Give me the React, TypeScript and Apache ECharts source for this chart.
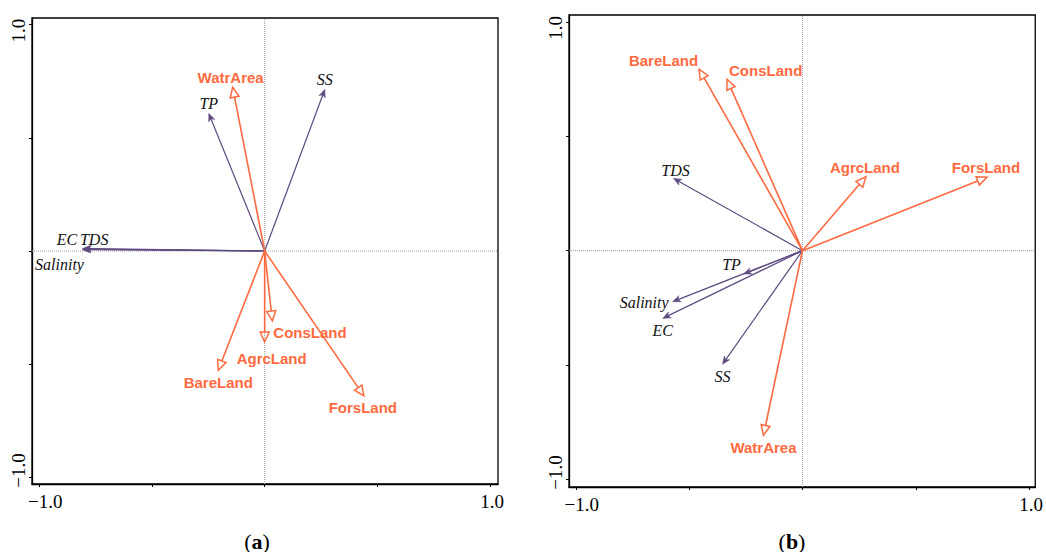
import React, { useEffect, useRef } from "react";
import * as echarts from "echarts";

// ---------- data ----------
const tickValues = [-1, -0.5, 0, 0.5, 1];
const labelValues = [-1, 1];

// panel (a)
const envNamesA = ["TP", "SS", "EC", "TDS", "Salinity"];
const envXA = [-0.248, 0.267, -0.81, -0.805, -0.808];
const envYA = [0.608, 0.714, 0.009, 0.011, 0.006];
const landNamesA = ["WatrArea", "ConsLand", "AgrcLand", "BareLand", "ForsLand"];
const landXA = [-0.142, 0.034, 0.0, -0.206, 0.44];
const landYA = [0.723, -0.309, -0.402, -0.527, -0.64];

// panel (b)
const envNamesB = ["TDS", "TP", "Salinity", "EC", "SS"];
const envXB = [-0.569, -0.26, -0.573, -0.617, -0.353];
const envYB = [0.316, -0.102, -0.223, -0.296, -0.497];
const landNamesB = ["BareLand", "ConsLand", "AgrcLand", "ForsLand", "WatrArea"];
const landXB = [-0.456, -0.333, 0.28, 0.814, -0.172];
const landYB = [0.793, 0.749, 0.323, 0.321, -0.807];

// axis extents
const rangeA = { xmin: -1.032, xmax: 1.035, ymin: -1.029, ymax: 1.029 };
const rangeB = { xmin: -1.03, xmax: 1.027, ymin: -1.033, ymax: 1.03 };

// ---------- styles ----------
const ORANGE = "#ff6a40";
const PURPLE = "#5e4b80";
const SERIF = "'Liberation Serif', 'Times New Roman', serif";
const SANS = "'Liberation Sans', Arial, sans-serif";

// label placement (pixel offsets from arrow tip)
const labelPosA: Record<string, [number, number, string]> = {
  TP: [0, -10, "center"],
  SS: [0, -10, "center"],
  EC: [-15, -9, "center"],
  TDS: [11, -9, "center"],
  Salinity: [-23, 15, "center"],
  WatrArea: [-2, -10, "center"],
  ConsLand: [1, 12, "left"],
  AgrcLand: [7, 16, "center"],
  BareLand: [0, 12, "center"],
  ForsLand: [-1, 12, "center"],
};
const labelPosB: Record<string, [number, number, string]> = {
  BareLand: [-1, -9, "right"],
  ConsLand: [2, -9, "left"],
  AgrcLand: [-1, -9, "center"],
  ForsLand: [-1, -10, "center"],
  TDS: [2, -8, "center"],
  TP: [-12, -9, "center"],
  Salinity: [-4, 1, "right"],
  EC: [0, 12, "center"],
  SS: [0, 12, "center"],
  WatrArea: [0, 12, "center"],
};

function arrowSeries(
  names: string[],
  xs: number[],
  ys: number[],
  idx: number,
  kind: "env" | "land",
  pos: Record<string, [number, number, string]>
) {
  return {
    type: "custom",
    coordinateSystem: "cartesian2d",
    xAxisIndex: idx,
    yAxisIndex: idx,
    clip: false,
    z: kind === "land" ? 4 : 3,
    data: xs.map((x, i) => [x, ys[i]]),
    renderItem: (params: any, api: any) => {
      const i = params.dataIndex;
      const name = names[i];
      const o = api.coord([0, 0]);
      const t = api.coord([api.value(0), api.value(1)]);
      const dx = t[0] - o[0];
      const dy = t[1] - o[1];
      const len = Math.sqrt(dx * dx + dy * dy) || 1;
      const ux = dx / len;
      const uy = dy / len;
      const nx = -uy;
      const ny = ux;
      const children: any[] = [];
      const p = pos[name] || [0, -10, "center"];
      if (kind === "land") {
        const L = 10;
        const W = 4.5;
        const b = [t[0] - ux * L, t[1] - uy * L];
        children.push({
          type: "line",
          shape: { x1: o[0], y1: o[1], x2: b[0], y2: b[1] },
          style: { stroke: ORANGE, lineWidth: 1.6 },
        });
        children.push({
          type: "polygon",
          shape: {
            points: [
              [t[0], t[1]],
              [b[0] + nx * W, b[1] + ny * W],
              [b[0] - nx * W, b[1] - ny * W],
            ],
          },
          style: { stroke: ORANGE, lineWidth: 1.5, fill: "rgba(255,255,255,0)" },
        });
        children.push({
          type: "text",
          x: t[0] + p[0],
          y: t[1] + p[1],
          style: {
            text: name,
            fill: ORANGE,
            font: `bold 15px ${SANS}`,
            align: p[2],
            verticalAlign: "middle",
          },
        });
      } else {
        const L = 8;
        const W = 3.3;
        const b = [t[0] - ux * L, t[1] - uy * L];
        const nch = [t[0] - ux * L * 0.72, t[1] - uy * L * 0.72];
        children.push({
          type: "line",
          shape: { x1: o[0], y1: o[1], x2: nch[0], y2: nch[1] },
          style: { stroke: PURPLE, lineWidth: 1.2 },
        });
        children.push({
          type: "polygon",
          shape: {
            points: [
              [t[0], t[1]],
              [b[0] + nx * W, b[1] + ny * W],
              [nch[0], nch[1]],
              [b[0] - nx * W, b[1] - ny * W],
            ],
          },
          style: { fill: PURPLE, stroke: PURPLE, lineWidth: 0.5 },
        });
        children.push({
          type: "text",
          x: t[0] + p[0],
          y: t[1] + p[1],
          style: {
            text: name,
            fill: "#111",
            font: `italic 16px ${SERIF}`,
            align: p[2],
            verticalAlign: "middle",
          },
        });
      }
      return { type: "group", children };
    },
  };
}

function refLines(r: { xmin: number; xmax: number; ymin: number; ymax: number }, idx: number) {
  const style = { color: "#9a9a9a", width: 1, type: "dotted" as const };
  return [
    {
      type: "line",
      xAxisIndex: idx,
      yAxisIndex: idx,
      data: [
        [0, r.ymin],
        [0, r.ymax],
      ],
      showSymbol: false,
      symbol: "none",
      lineStyle: style,
      silent: true,
      z: 1,
    },
    {
      type: "line",
      xAxisIndex: idx,
      yAxisIndex: idx,
      data: [
        [r.xmin, 0],
        [r.xmax, 0],
      ],
      showSymbol: false,
      symbol: "none",
      lineStyle: style,
      silent: true,
      z: 1,
    },
  ];
}

const num = (v: number) => (v < 0 ? "\u2212" + Math.abs(v).toFixed(1) : v.toFixed(1));
const fmtX = (v: number) => (v < 0 ? `{lo|${num(v)}}` : `{hi|${num(v)}}`);
const fmtY = (v: number) => (v < 0 ? `{lo|${num(v)}}` : `{hi|${num(v)}}`);

function makeXAxis(r: any, idx: number) {
  return {
    type: "value",
    gridIndex: idx,
    min: r.xmin,
    max: r.xmax,
    splitLine: { show: false },
    axisLine: { show: true, onZero: false, lineStyle: { color: "#000", width: 1.3 } },
    axisTick: { show: true, length: 3, customValues: tickValues, lineStyle: { color: "#000", width: 1 } },
    axisLabel: {
      show: true,
      customValues: labelValues,
      formatter: fmtX,
      fontFamily: SERIF,
      fontSize: 19,
      color: "#000",
      margin: 8,
      rich: {
        lo: { fontFamily: SERIF, fontSize: 19, color: "#000", padding: [0, 0, 0, 12] },
        hi: { fontFamily: SERIF, fontSize: 19, color: "#000", padding: [0, 0, 0, 4] },
      },
    },
  };
}

function makeYAxis(r: any, idx: number) {
  return {
    type: "value",
    gridIndex: idx,
    min: r.ymin,
    max: r.ymax,
    splitLine: { show: false },
    axisLine: { show: true, onZero: false, lineStyle: { color: "#000", width: 1.3 } },
    axisTick: { show: true, length: 3, customValues: tickValues, lineStyle: { color: "#000", width: 1 } },
    axisLabel: {
      show: true,
      customValues: labelValues,
      formatter: fmtY,
      rotate: 90,
      fontFamily: SERIF,
      fontSize: 19,
      color: "#000",
      margin: 4,
      rich: {
        lo: { fontFamily: SERIF, fontSize: 19, color: "#000", padding: [0, 0, 0, 14] },
        hi: { fontFamily: SERIF, fontSize: 19, color: "#000", padding: [0, 12, 0, 0] },
      },
    },
  };
}

function caption(letter: string, x: number) {
  return {
    type: "text",
    x,
    y: 541,
    style: {
      text: `{n|(}{b|${letter}}{n|)}`,
      font: `22px ${SERIF}`,
      fill: "#000",
      align: "center",
      verticalAlign: "middle",
      rich: {
        n: { fontWeight: "normal", fontSize: 22, fontFamily: SERIF, fill: "#000" },
        b: { fontWeight: "bold", fontSize: 22, fontFamily: SERIF, fill: "#000" },
      },
    },
  };
}

export default function App() {
  const ref = useRef<HTMLDivElement>(null);
  useEffect(() => {
    if (!ref.current) return;
    const chart = echarts.init(ref.current, null, { renderer: "svg" });
    const option: any = {
      animation: false,
      backgroundColor: "#fff",
      grid: [
        { left: 32, top: 18, width: 466, height: 466, show: true, borderColor: "#000", borderWidth: 1.3 },
        { left: 569, top: 15, width: 470, height: 472, show: true, borderColor: "#000", borderWidth: 1.3 },
      ],
      xAxis: [makeXAxis(rangeA, 0), makeXAxis(rangeB, 1)],
      yAxis: [makeYAxis(rangeA, 0), makeYAxis(rangeB, 1)],
      graphic: [caption("a", 257), caption("b", 792)],
      series: [
        ...refLines(rangeA, 0),
        ...refLines(rangeB, 1),
        arrowSeries(envNamesA, envXA, envYA, 0, "env", labelPosA),
        arrowSeries(landNamesA, landXA, landYA, 0, "land", labelPosA),
        arrowSeries(envNamesB, envXB, envYB, 1, "env", labelPosB),
        arrowSeries(landNamesB, landXB, landYB, 1, "land", labelPosB),
      ],
    };
    chart.setOption(option);
    return () => chart.dispose();
  }, []);
  return (
    <div
      ref={ref}
      style={{ position: "fixed", left: 0, top: 0, width: 1046, height: 552, background: "#fff" }}
    />
  );
}
